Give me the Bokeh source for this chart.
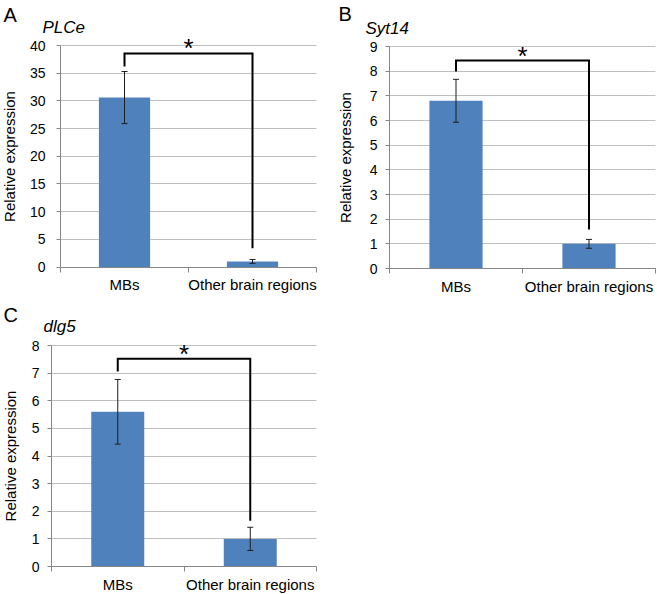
from bokeh.plotting import figure
from bokeh.models import Range1d, FixedTicker, Label, Whisker, TeeHead, ColumnDataSource
from bokeh.layouts import row, column
from bokeh.embed import file_html
from bokeh.resources import INLINE

# ---------------- data ----------------
categories = ["MBs", "Other brain regions"]

plce_values = [30.6, 1.0]
plce_errors = [4.7, 0.35]
plce_ticks = [0, 5, 10, 15, 20, 25, 30, 35, 40]
plce_bracket = [36.2, 38.56, 3.4]      # left leg end, top, right leg end

syt14_values = [6.8, 1.0]
syt14_errors = [0.87, 0.18]
syt14_ticks = [0, 1, 2, 3, 4, 5, 6, 7, 8, 9]
syt14_bracket = [7.99, 8.43, 1.58]

dlg5_values = [5.6, 1.0]
dlg5_errors = [1.17, 0.42]
dlg5_ticks = [0, 1, 2, 3, 4, 5, 6, 7, 8]
dlg5_bracket = [7.06, 7.52, 1.66]

y_label = "Relative expression"

FONT = "Liberation Sans"
BAR = "#4f81bd"
AXIS = "#868686"
GRID = "#bfbfbf"
ERR = "#1e1e1e"


def panel(letter, gene, values, errors, ticks, bracket, W, H,
          px_left, px_right, px_top, px_bottom,
          letter_xy, gene_xy, tick_standoff, label_standoff):
    # the plotting frame fills the whole canvas; the axes are pinned at 0
    n = len(categories)
    ux = (px_right - px_left) / n
    uy = (px_bottom - px_top) / (ticks[-1] - ticks[0])
    p = figure(width=W, height=H,
               x_range=Range1d(-px_left / ux, (W - px_left) / ux),
               y_range=Range1d(ticks[0] - (H - px_bottom) / uy, ticks[-1] + px_top / uy),
               output_backend="svg", toolbar_location=None, min_border=0)
    p.outline_line_color = None
    p.background_fill_color = "white"
    p.border_fill_color = "white"

    xs = [i + 0.5 for i in range(n)]
    src = ColumnDataSource(dict(
        x=xs, top=values,
        upper=[v + e for v, e in zip(values, errors)],
        lower=[v - e for v, e in zip(values, errors)],
    ))

    # axes & grid
    yt = FixedTicker(ticks=ticks, minor_ticks=[])
    p.yaxis.ticker = yt
    p.yaxis.fixed_location = 0
    p.yaxis.bounds = (ticks[0], ticks[-1])
    p.ygrid.ticker = yt
    p.ygrid.grid_line_color = GRID
    p.ygrid.cross_bounds = (0, n)
    p.xgrid.visible = False
    p.yaxis.axis_line_color = AXIS
    p.yaxis.major_tick_line_color = AXIS
    p.yaxis.major_tick_out = 4
    p.yaxis.major_tick_in = 0
    p.yaxis.minor_tick_line_color = None
    p.yaxis.major_label_standoff = tick_standoff
    p.yaxis.major_label_text_font = FONT
    p.yaxis.major_label_text_font_size = "14px"
    p.yaxis.major_label_text_color = "black"
    p.yaxis.axis_label = y_label
    p.yaxis.axis_label_text_font = FONT
    p.yaxis.axis_label_text_font_size = "15px"
    p.yaxis.axis_label_text_font_style = "normal"
    p.yaxis.axis_label_text_color = "black"
    p.yaxis.axis_label_standoff = label_standoff

    xt = FixedTicker(ticks=xs, minor_ticks=list(range(n + 1)))
    p.xaxis.ticker = xt
    p.xaxis.fixed_location = 0
    p.xaxis.bounds = (0, n)
    p.xaxis.major_label_overrides = {x: c for x, c in zip(xs, categories)}
    p.xaxis.axis_line_color = AXIS
    p.xaxis.major_tick_line_color = None
    p.xaxis.major_tick_out = 0
    p.xaxis.major_tick_in = 0
    p.xaxis.minor_tick_line_color = AXIS
    p.xaxis.minor_tick_out = 5
    p.xaxis.minor_tick_in = 0
    p.xaxis.major_label_standoff = 4
    p.xaxis.major_label_text_font = FONT
    p.xaxis.major_label_text_font_size = "15px"
    p.xaxis.major_label_text_color = "black"

    # bars, error bars, significance bracket
    p.vbar(x="x", top="top", width=0.4, source=src, fill_color=BAR, line_color=None)
    wh = Whisker(source=src, base="x", upper="upper", lower="lower",
                 line_color=ERR, line_width=1, level="annotation",
                 upper_head=TeeHead(size=6, line_color=ERR, line_width=1),
                 lower_head=TeeHead(size=6, line_color=ERR, line_width=1))
    p.add_layout(wh)
    p.line(x=[xs[0], xs[0], xs[1], xs[1]],
           y=[bracket[0], bracket[1], bracket[1], bracket[2]],
           line_color="black", line_width=2, line_join="miter")
    p.add_layout(Label(x=(xs[0] + xs[1]) / 2, y=bracket[1], text="*",
                       text_font=FONT, text_font_size="26px", text_align="center",
                       text_baseline="alphabetic", y_offset=5, text_color="black"))

    # panel letter and gene name
    p.add_layout(Label(x=letter_xy[0], y=letter_xy[1], x_units="screen", y_units="screen",
                       text=letter, text_font=FONT, text_font_size="20px",
                       text_baseline="alphabetic", text_color="black"))
    p.add_layout(Label(x=gene_xy[0], y=gene_xy[1], x_units="screen", y_units="screen",
                       text=gene, text_font=FONT, text_font_size="17px",
                       text_font_style="italic", text_baseline="alphabetic",
                       text_color="black"))
    return p


pA = panel("A", "PLCe", plce_values, plce_errors, plce_ticks, plce_bracket,
           330, 298, 60, 316, 45, 266.5, (3, 284), (42, 271), 11, 9)
pB = panel("B", "Syt14", syt14_values, syt14_errors, syt14_ticks, syt14_bracket,
           327, 298, 59, 325, 46, 268, (8, 285), (35, 270), 8, 13)
pC = panel("C", "dlg5", dlg5_values, dlg5_errors, dlg5_ticks, dlg5_bracket,
           330, 296, 51, 316, 47, 268, (3, 280), (43, 268), 8, 10)

layout = column(row(pA, pB), pC)
open("out.html", "w").write(file_html(layout, INLINE))
